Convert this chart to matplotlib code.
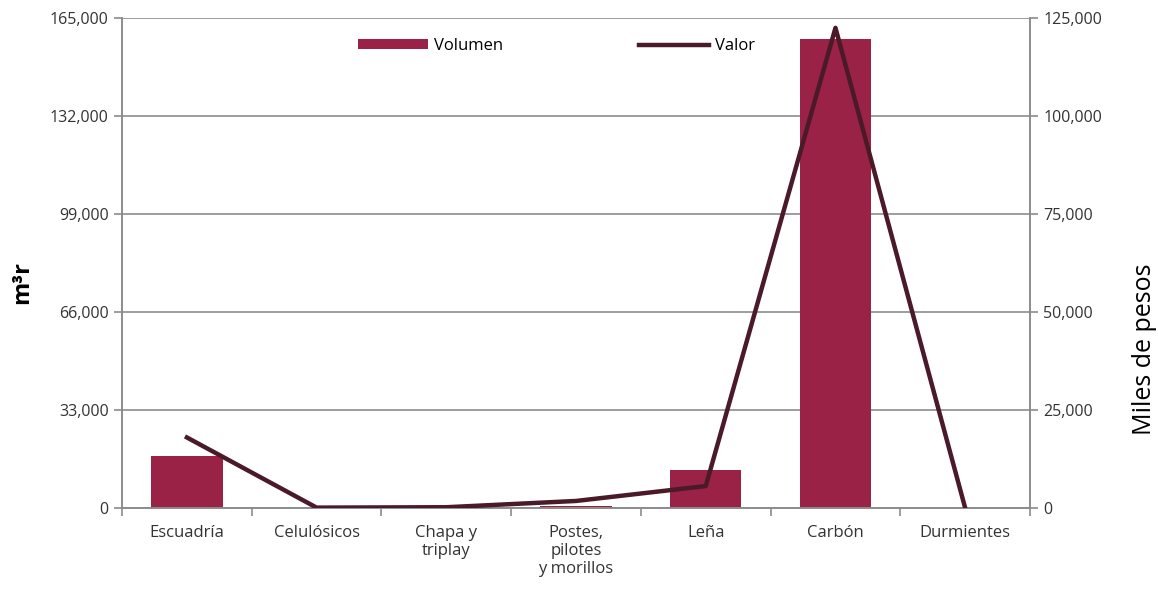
import numpy as np
import matplotlib.pyplot as plt
from matplotlib.ticker import FuncFormatter, FixedLocator

# datos
categorias = ["Escuadría", "Celulósicos", "Chapa y\ntriplay", "Postes,\npilotes\ny morillos",
              "Leña", "Carbón", "Durmientes"]
volumen = [17500, 0, 0, 700, 12800, 158000, 0]       # m3r
valor = [18000, 100, 200, 1800, 5600, 122500, 0]      # miles de pesos

ticks_izq = [0, 33000, 66000, 99000, 132000, 165000]
ticks_der = [0, 25000, 50000, 75000, 100000, 125000]

color_barra = "#9b2247"
color_linea = "#4a1a28"
gris = "#8c8c8c"
texto = "#333333"

plt.rcParams['font.family'] = ['Open Sans', 'DejaVu Sans']

fig = plt.figure(figsize=(11.58, 5.89), dpi=100)
ax = fig.add_axes([0.1054, 0.1375, 0.7841, 0.8319])
ax2 = ax.twinx()

x = np.arange(len(categorias))
ax.bar(x, volumen, width=0.55, color=color_barra, label="Volumen", zorder=2)
ax2.plot(x, valor, color=color_linea, lw=3.2, label="Valor", zorder=3)

ax.set_xlim(-0.5, len(categorias) - 0.5)
ax.set_ylim(0, 165000)
ax2.set_ylim(0, 125000)
ax.set_yticks(ticks_izq)
ax2.set_yticks(ticks_der)
fmt = FuncFormatter(lambda v, p: f"{int(v):,}")
ax.yaxis.set_major_formatter(fmt)
ax2.yaxis.set_major_formatter(fmt)

ax.set_xticks(x)
ax.set_xticklabels(categorias, fontsize=12, color=texto, linespacing=1.2)
ax.tick_params(axis='x', which='major', length=0, pad=12)
ax.xaxis.set_minor_locator(FixedLocator(np.arange(-0.5, len(categorias), 1)))
ax.tick_params(axis='x', which='minor', length=6, color=gris, width=1.2)

ax.tick_params(axis='y', labelsize=11.5, labelcolor=texto, color=gris, length=6, width=1.2)
ax2.tick_params(axis='y', labelsize=11.5, labelcolor=texto, color=gris, length=6, width=1.2)

ax.grid(axis='y', color=gris, lw=1.2, zorder=0)
ax.set_axisbelow(True)

for a in (ax, ax2):
    a.spines['top'].set_visible(False)
    for s in ('left', 'right', 'bottom'):
        a.spines[s].set_color(gris)
        a.spines[s].set_linewidth(1.2)

# titulos de ejes
fig.text(0.019, 0.521, "m³r", fontsize=17, fontweight='bold', rotation=90,
         ha='center', va='center')
fig.text(0.9885, 0.4075, "Miles de pesos", fontsize=18, rotation=90,
         ha='center', va='center')

h1, l1 = ax.get_legend_handles_labels()
h2, l2 = ax2.get_legend_handles_labels()
ax.legend(h1 + h2, l1 + l2, loc='upper center', bbox_to_anchor=(0.4785, 0.99), ncol=2,
          frameon=False, fontsize=12, handlelength=4.2, handleheight=0.5,
          columnspacing=8.2, handletextpad=0.35)

fig.savefig("out.png", dpi=100)
